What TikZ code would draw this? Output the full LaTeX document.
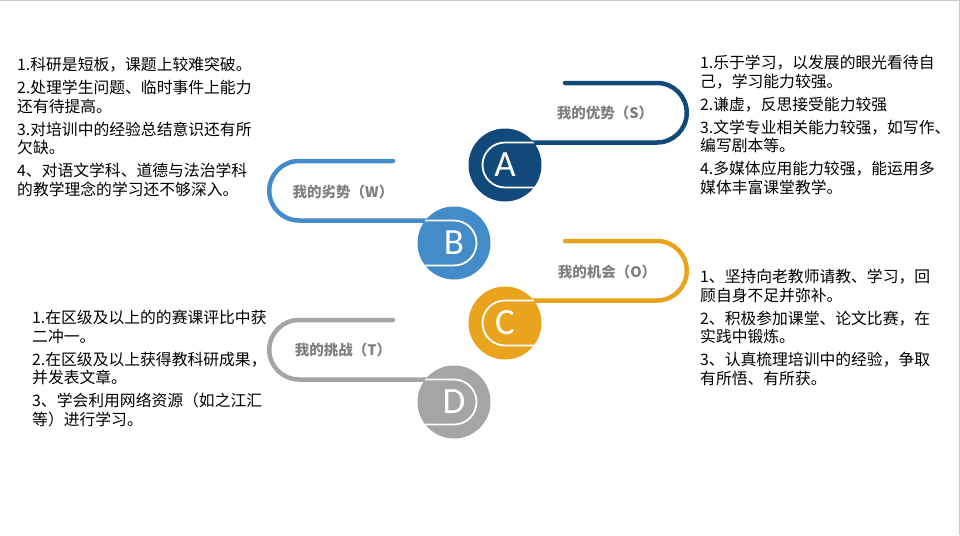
\documentclass[tikz,border=0pt]{standalone}
\usepackage{fontspec}
\setmainfont{Noto Sans CJK SC}
\newfontfamily\letterfont{Carlito}
\usetikzlibrary{backgrounds}
\definecolor{cA}{HTML}{11497A}
\definecolor{cB}{HTML}{448BCA}
\definecolor{cC}{HTML}{EAA31C}
\definecolor{cD}{HTML}{A5A5A5}
\definecolor{lblgray}{HTML}{7F7F7F}
\definecolor{edgegray}{HTML}{C8C8C8}
\begin{document}
\begin{tikzpicture}[x=1pt,y=1pt,
  band/.style={line width=4.5pt, line cap=round},
  innerline/.style={white, line width=1.8pt},
  disc/.style={circle, minimum size=73pt, inner sep=0pt, text=white,
    font=\letterfont\fontsize{37}{37}\selectfont},
  lbl/.style={text=lblgray, inner sep=0pt, font=\fontsize{14.5}{14.5}\selectfont\bfseries},
  body/.style={align=left, anchor=north west, inner sep=0pt, text=black,
    font=\fontsize{15.8}{18.5}\selectfont}]
\useasboundingbox (0,0) rectangle (960,-535);
\draw[edgegray, line width=1pt] (0,-0.5) -- (959.5,-0.5) -- (959.5,-535);

% discs
\node[disc, fill=cA] (A) at (505,-165) {A};
\node[disc, fill=cB] (B) at (454,-243) {B};
\node[disc, fill=cC] (C) at (505,-323) {C};
\node[disc, fill=cD] (D) at (454,-402) {D};

% free ends of the bands
\coordinate (Aend) at (565,-83);
\coordinate (Bend) at (393,-161);
\coordinate (Cend) at (565,-241);
\coordinate (Dend) at (393,-320);

\begin{scope}[on background layer]
\draw[band, cA] (Aend) -- (657,-83) arc[start angle=90, end angle=-90, radius=29.75] -- ([yshift=22.5pt]A.center);
\draw[band, cB] (Bend) -- (299,-161) arc[start angle=90, end angle=270, radius=29.75] -- ([yshift=22.5pt]B.center);
\draw[band, cC] (Cend) -- (657,-241) arc[start angle=90, end angle=-90, radius=29.75] -- ([yshift=22.5pt]C.center);
\draw[band, cD] (Dend) -- (299,-320) arc[start angle=90, end angle=270, radius=29.75] -- ([yshift=22.5pt]D.center);
\end{scope}

% inner white curves
\begin{scope}
\clip (A.center) circle[radius=36.5pt];
\draw[innerline] ([shift={(40,22.5)}]A.center) -- ([yshift=22.5pt]A.center) arc[start angle=90, end angle=270, radius=22.5] -- ([shift={(40,-22.5)}]A.center);
\end{scope}
\begin{scope}
\clip (B.center) circle[radius=36.5pt];
\draw[innerline] ([shift={(-40,22.5)}]B.center) -- ([yshift=22.5pt]B.center) arc[start angle=90, end angle=-90, radius=22.5] -- ([shift={(-40,-22.5)}]B.center);
\end{scope}
\begin{scope}
\clip (C.center) circle[radius=36.5pt];
\draw[innerline] ([shift={(40,22.5)}]C.center) -- ([yshift=22.5pt]C.center) arc[start angle=90, end angle=270, radius=22.5] -- ([shift={(40,-22.5)}]C.center);
\end{scope}
\begin{scope}
\clip (D.center) circle[radius=36.5pt];
\draw[innerline] ([shift={(-40,22.5)}]D.center) -- ([yshift=22.5pt]D.center) arc[start angle=90, end angle=-90, radius=22.5] -- ([shift={(-40,-22.5)}]D.center);
\end{scope}

% labels
\node[lbl] (lA) at (605,-113) {我的优势（S）};
\node[lbl] (lB) at (343,-192) {我的劣势（W）};
\node[lbl] (lC) at (607,-272) {我的机会（O）};
\node[lbl] (lD) at (343,-350) {我的挑战（T）};

% text blocks
\node[body] (tW) at (17,-57) {1.科研是短板，课题上较难突破。\\[4.5pt]
2.处理学生问题、临时事件上能力\\
还有待提高。\\[4.5pt]
3.对培训中的经验总结意识还有所\\
欠缺。\\[4.5pt]
4、对语文学科、道德与法治学科\\
的教学理念的学习还不够深入。};

\node[body] (tS) at (700,-55) {1.乐于学习，以发展的眼光看待自\\
己，学习能力较强。\\[4.5pt]
2.谦虚，反思接受能力较强\\[4.5pt]
3.文学专业相关能力较强，如写作、\\
编写剧本等。\\[4.5pt]
4.多媒体应用能力较强，能运用多\\
媒体丰富课堂教学。};

\node[body] (tO) at (700,-269) {1、坚持向老教师请教、学习，回\\
顾自身不足并弥补。\\[4.5pt]
2、积极参加课堂、论文比赛，在\\
实践中锻炼。\\[4.5pt]
3、认真梳理培训中的经验，争取\\
有所悟、有所获。};

\node[body] (tT) at (32,-310) {1.在区级及以上的的赛课评比中获\\
二冲一。\\[4.5pt]
2.在区级及以上获得教科研成果，\\
并发表文章。\\[4.5pt]
3、学会利用网络资源（如之江汇\\
等）进行学习。};
\end{tikzpicture}
\end{document}
